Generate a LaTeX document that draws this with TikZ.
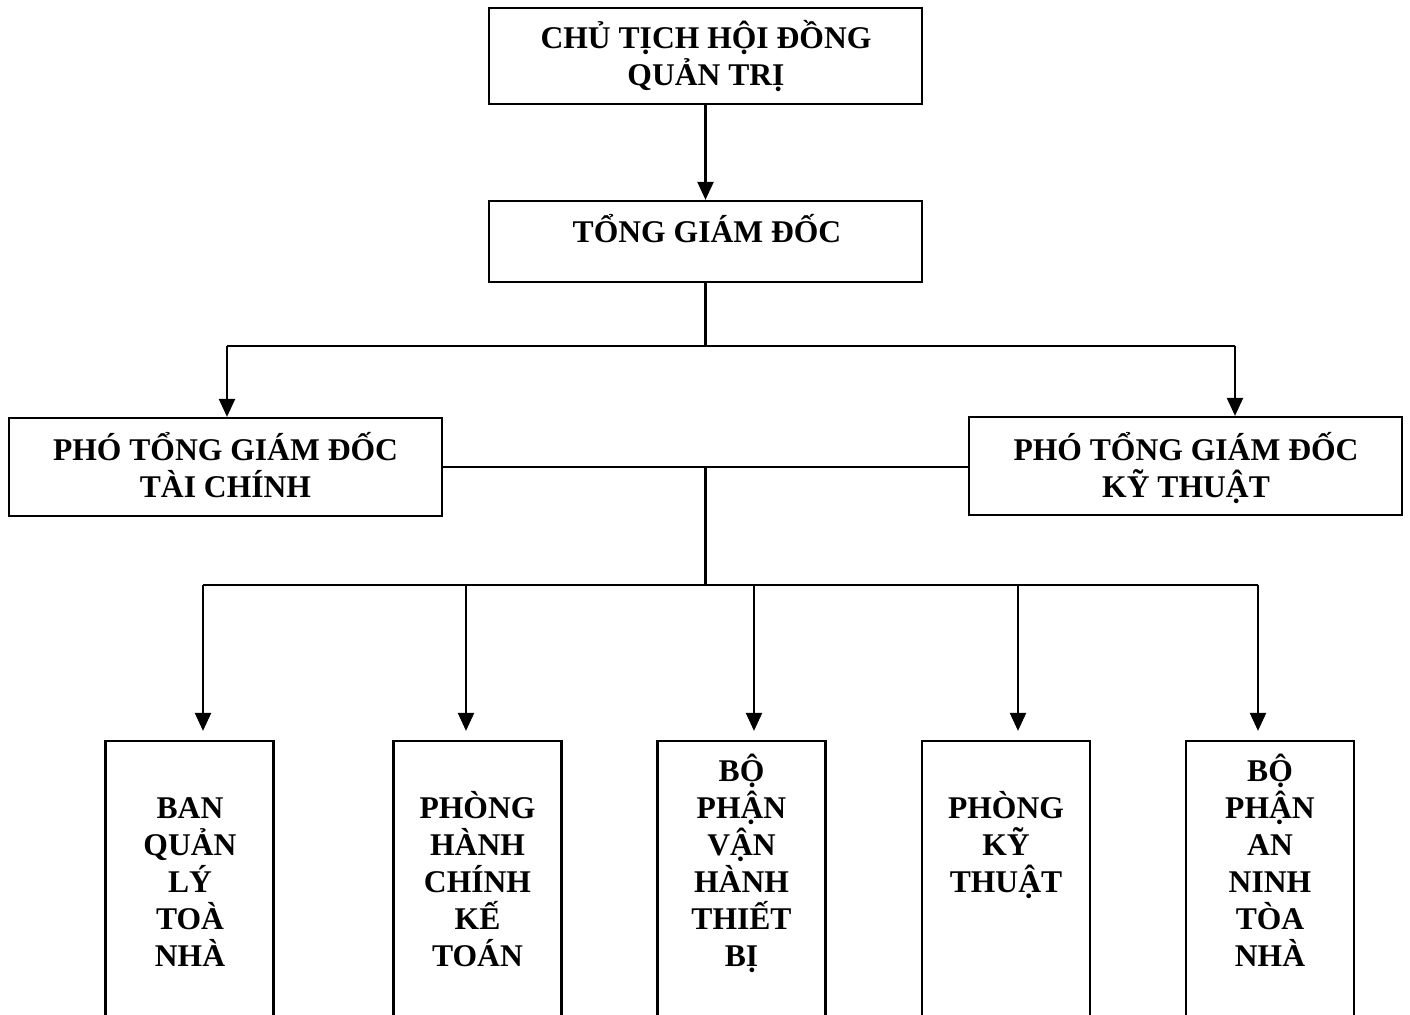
\documentclass[tikz,border=0pt]{standalone}
\usepackage{fontspec}
\setmainfont{Liberation Serif}
\usetikzlibrary{arrows.meta}
\begin{document}
\begin{tikzpicture}[x=0.5pt,y=-0.5pt,
  box/.style={draw, line width=1.1pt, inner sep=0pt},
  topbox/.style={box, minimum width=216.5pt},
  unitbox/.style={box, minimum width=84pt, minimum height=149.5pt},
  txt/.style={inner sep=0pt, anchor=north, align=center,
    font=\bfseries\fontsize{15.8}{18.5}\selectfont},
  link/.style={line width=1.1pt},
  arr/.style={link, -{Triangle[length=9pt,width=8pt]}}]
\newcommand{\fl}{\rule{0pt}{17pt}}
% page frame
\useasboundingbox (0,0) rectangle (1410,1015);
\clip (0,0) rectangle (1410,1015);

% board and management boxes
\node[topbox, minimum height=48pt]   (ct)  at (705.5,56)   {};
\node[topbox, minimum height=40.5pt] (tgd) at (705.5,241.5) {};
\node[topbox, minimum height=49pt]   (tc)  at (225.5,467)  {};
\node[topbox, minimum height=49pt]   (kt)  at (1185.5,466) {};

\node[txt] (t-ct)  at (706,14)   {\fl CHỦ TỊCH HỘI ĐỒNG\\QUẢN TRỊ};
\node[txt] (t-tgd) at (707,208)  {\fl TỔNG GIÁM ĐỐC};
\node[txt] (t-tc)  at (225.5,426) {\fl PHÓ TỔNG GIÁM ĐỐC\\TÀI CHÍNH};
\node[txt] (t-kt)  at (1186,426) {\fl PHÓ TỔNG GIÁM ĐỐC\\KỸ THUẬT};

% departments (open at the bottom edge)
\node[unitbox] (b1) at (189.5,890.5) {};
\node[unitbox] (b2) at (477.5,890.5) {};
\node[unitbox] (b3) at (741.5,890.5) {};
\node[unitbox] (b4) at (1006,890.5)  {};
\node[unitbox] (b5) at (1270,890.5)  {};

\node[txt] (t1) at (190,784)  {\fl BAN\\QUẢN\\LÝ\\TOÀ\\NHÀ};
\node[txt] (t2) at (477.5,784) {\fl PHÒNG\\HÀNH\\CHÍNH\\KẾ\\TOÁN};
\node[txt] (t3) at (741.5,747) {\fl BỘ\\PHẬN\\VẬN\\HÀNH\\THIẾT\\BỊ};
\node[txt] (t4) at (1006,784)  {\fl PHÒNG\\KỸ\\THUẬT};
\node[txt] (t5) at (1270,747)  {\fl BỘ\\PHẬN\\AN\\NINH\\TÒA\\NHÀ};

% junction points
\coordinate (bus1) at (tgd.south |- 0,346);
\coordinate (l1) at (227,346);
\coordinate (r1) at (1235,346);
\coordinate (mid)  at (tc.east -| tgd.south);
\coordinate (bus2) at (tgd.south |- 0,585);
\coordinate (d1) at (203,585);
\coordinate (d2) at (466,585);
\coordinate (d3) at (754,585);
\coordinate (d4) at (1018,585);
\coordinate (d5) at (1258,585);

% connectors
\draw[arr] (ct.south) -- (tgd.north);
\draw[link] (tgd.south) -- (bus1);
\draw[link] (l1) -- (r1);
\draw[arr] (l1) -- (l1 |- tc.north);
\draw[arr] (r1) -- (r1 |- kt.north);
\draw[link] (tc.east) -- (tc.east -| kt.west);
\draw[link] (mid) -- (bus2);
\draw[link] (d1) -- (d5);
\draw[arr, shorten >=4.5pt] (d1) -- (d1 |- b1.north);
\draw[arr, shorten >=4.5pt] (d2) -- (d2 |- b2.north);
\draw[arr, shorten >=4.5pt] (d3) -- (d3 |- b3.north);
\draw[arr, shorten >=4.5pt] (d4) -- (d4 |- b4.north);
\draw[arr, shorten >=4.5pt] (d5) -- (d5 |- b5.north);
\end{tikzpicture}
\end{document}
